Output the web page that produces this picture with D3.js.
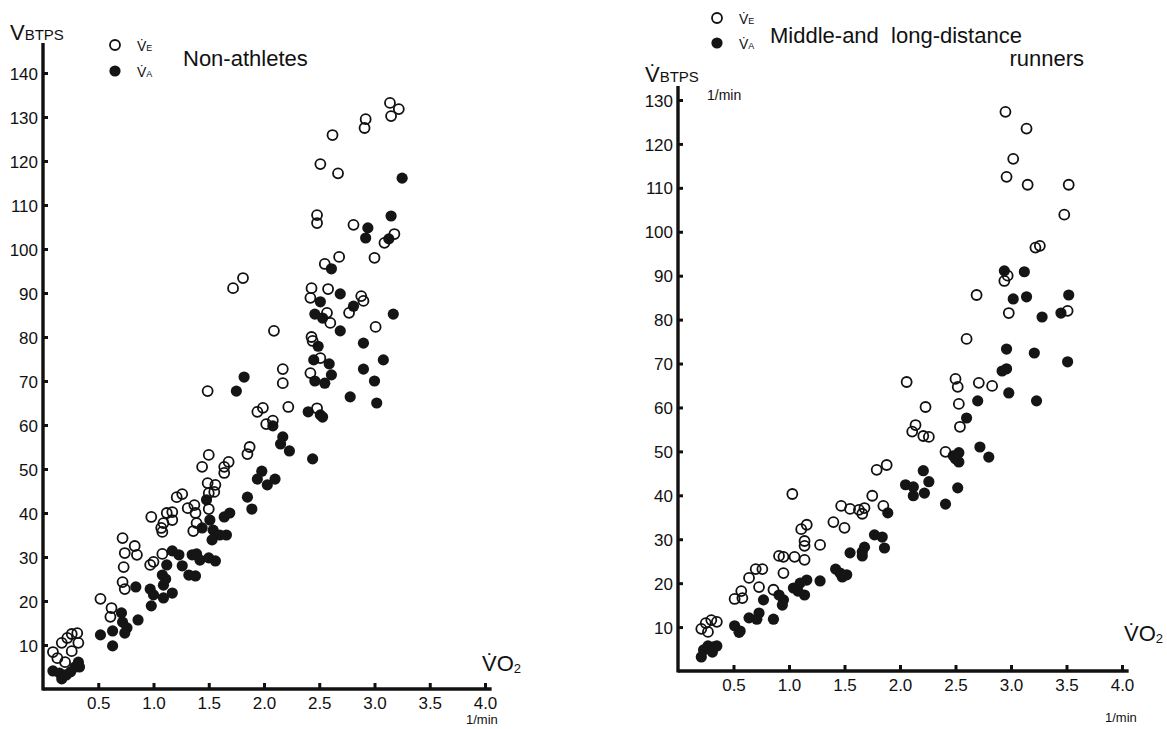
<!DOCTYPE html>
<html>
<head>
<meta charset="utf-8">
<script src="https://cdn.jsdelivr.net/npm/d3@7"></script>
<style>
  body { margin: 0; background: #fff; }
  svg text { font-family: "Liberation Sans", Arial, sans-serif; fill: #111; white-space: pre; }
</style>
</head>
<body>
<div id="chart"></div>
<script>
// values: [VO2 l/min, V BTPS l/min]
const nonAthletesVE = [
  [3.14,133.2],[3.22,131.8],[3.15,130.2],[2.92,129.5],[2.91,127.5],[2.62,125.9],[2.51,119.3],[2.67,117.2],
  [2.48,107.7],[2.48,105.9],[2.81,105.5],[3.18,103.4],[3.09,101.4],[2.68,98.2],[3.0,98.0],[2.55,96.6],
  [2.43,91.1],[2.58,90.9],[2.42,88.9],[2.88,89.3],[2.90,88.2],[2.77,85.5],[2.57,85.5],[2.60,83.2],
  [3.01,82.3],[2.43,80.0],[2.44,79.1],[2.51,75.2],[2.42,71.8],[2.22,64.1],[2.48,63.8],[2.17,72.7],
  [2.17,69.5],[1.72,91.1],[1.81,93.4],[2.09,81.4],[1.49,67.7],[1.94,63.0],[1.99,63.9],[2.02,60.2],
  [2.08,61.0],[1.87,55.0],[1.85,53.4],[1.50,53.2],[1.44,50.5],[1.64,50.5],[1.68,51.6],[1.64,49.1],
  [1.49,46.8],[1.56,46.4],[1.50,44.5],[1.55,44.8],[1.21,43.6],[1.26,44.3],[1.50,40.9],[1.37,41.8],
  [1.31,41.1],[1.38,40.0],[1.39,37.7],[1.36,35.9],[0.98,39.1],[1.09,37.7],[1.07,36.6],[1.08,35.7],
  [1.12,40.0],[1.17,40.2],[1.17,38.4],[0.72,34.3],[0.74,30.9],[0.73,27.7],[0.83,32.5],[0.85,30.5],
  [0.72,24.3],[0.74,22.7],[0.97,28.2],[1.0,28.9],[1.08,30.7],[0.52,20.5],[0.62,18.4],[0.61,16.4],
  [0.31,12.7],[0.26,12.5],[0.22,11.6],[0.17,10.5],[0.32,10.5],[0.26,8.6],[0.09,8.4],[0.13,7.0],[0.20,6.1]
];
const nonAthletesVA = [
  [3.25,116.1],[3.15,107.5],[2.94,104.8],[2.92,102.5],[3.13,102.3],[2.61,95.5],[2.51,88.0],[2.69,89.8],
  [2.81,87.0],[2.46,85.2],[2.53,84.3],[3.17,85.2],[2.69,81.4],[2.49,77.9],[2.90,78.6],[3.08,74.8],
  [2.45,74.8],[2.59,73.9],[2.61,71.4],[2.90,72.7],[2.46,70.0],[2.55,69.5],[3.0,70.0],[2.78,66.4],
  [3.02,65.0],[2.40,63.0],[2.51,62.3],[2.53,61.8],[1.82,70.9],[1.75,67.7],[2.08,59.8],[2.17,57.3],
  [2.15,55.7],[2.23,54.1],[2.44,52.3],[1.98,49.5],[1.94,47.7],[2.03,46.4],[2.10,47.7],[1.85,43.6],
  [1.89,40.9],[1.48,43.0],[1.51,38.4],[1.44,36.6],[1.54,36.1],[1.60,35.0],[1.53,33.9],[1.64,39.1],
  [1.69,40.0],[1.66,35.0],[1.17,31.4],[1.23,30.5],[1.26,28.0],[1.12,28.2],[1.08,25.9],[1.11,25.0],
  [1.09,23.6],[1.17,21.8],[1.09,20.7],[0.97,22.7],[1.0,21.4],[0.98,18.9],[1.35,30.5],[1.39,30.7],
  [1.42,29.3],[1.50,29.8],[1.56,29.1],[1.32,25.9],[1.38,25.7],[0.84,23.2],[0.71,17.3],[0.72,15.2],
  [0.76,13.9],[0.74,12.7],[0.86,15.7],[0.52,12.3],[0.63,13.2],[0.63,9.8],[0.32,6.1],[0.29,5.0],
  [0.25,3.9],[0.09,4.1],[0.15,3.6],[0.17,2.3],[0.21,3.2],[0.33,5.0]
];
const runnersVE = [
  [2.95,127.3],[3.14,123.5],[3.02,116.6],[2.96,112.5],[3.15,110.7],[3.52,110.7],[3.48,103.9],[3.22,96.4],
  [3.26,96.8],[2.97,90.0],[2.94,88.8],[2.69,85.6],[2.98,81.5],[3.51,82.0],[2.60,75.6],[2.06,65.8],
  [2.50,66.5],[2.52,64.7],[2.71,65.6],[2.83,64.9],[2.23,60.1],[2.53,60.8],[2.14,56.0],[2.11,54.5],
  [2.21,53.5],[2.26,53.3],[2.54,55.6],[2.41,49.9],[1.79,45.8],[1.88,46.9],[1.75,39.9],[1.85,37.6],
  [1.47,37.6],[1.55,36.9],[1.63,36.7],[1.66,35.8],[1.68,37.1],[1.03,40.3],[1.40,33.9],[1.50,32.6],
  [1.16,33.3],[1.11,32.3],[1.14,29.6],[1.14,28.5],[1.28,28.7],[0.91,26.2],[0.95,26.0],[1.05,26.0],
  [1.14,25.3],[0.70,23.2],[0.76,23.2],[0.64,21.2],[0.73,19.1],[0.95,22.3],[0.86,18.5],[0.57,18.2],
  [0.58,16.6],[0.51,16.4],[0.21,9.6],[0.25,10.9],[0.30,11.6],[0.35,11.2],[0.27,8.9]
];
const runnersVA = [
  [2.94,91.1],[3.12,90.9],[3.02,84.7],[3.14,85.2],[3.52,85.6],[3.28,80.6],[3.45,81.5],[2.96,73.3],
  [3.21,72.4],[3.51,70.4],[2.92,68.3],[2.96,68.8],[2.98,63.3],[2.70,61.5],[3.23,61.5],[2.60,57.6],
  [2.48,49.0],[2.53,49.7],[2.53,47.6],[2.50,48.3],[2.72,51.0],[2.80,48.7],[2.52,41.7],[2.41,38.0],
  [2.21,45.6],[2.26,43.1],[2.05,42.4],[2.12,41.9],[2.12,39.9],[2.22,40.5],[1.89,36.0],[1.77,31.0],
  [1.84,30.5],[1.86,28.0],[1.55,26.9],[1.66,27.1],[1.68,28.2],[1.66,26.2],[1.42,23.2],[1.46,22.3],
  [1.52,21.9],[1.48,21.4],[1.28,20.5],[1.16,20.7],[1.10,20.0],[1.04,18.9],[1.14,17.3],[1.08,18.2],
  [0.91,17.3],[0.95,16.2],[0.94,15.0],[0.77,16.2],[0.73,13.2],[0.64,12.1],[0.71,11.8],[0.86,11.8],
  [0.51,10.3],[0.56,9.1],[0.55,8.8],[0.27,5.7],[0.32,5.5],[0.35,5.7],[0.23,4.8],[0.31,4.3],[0.21,3.2]
];

const xTicks = [0.5, 1.0, 1.5, 2.0, 2.5, 3.0, 3.5, 4.0];
const yTicksLeft = [10, 20, 30, 40, 50, 60, 70, 80, 90, 100, 110, 120, 130, 140];
const yTicksRight = [10, 20, 30, 40, 50, 60, 70, 80, 90, 100, 110, 120, 130];

const width = 1167, height = 729;
const svg = d3.select("#chart").append("svg")
  .attr("width", width)
  .attr("height", height);

function panel(opt) {
  const x = d3.scaleLinear().domain([0, 4]).range(opt.xRange);
  const y = d3.scaleLinear().domain([0, opt.yMax]).range(opt.yRange);
  const g = svg.append("g");

  // axes
  g.append("g")
    .attr("transform", `translate(0,${y(0)})`)
    .call(d3.axisBottom(x).tickValues(xTicks).tickFormat(d3.format(".1f"))
      .tickSize(-6).tickPadding(8))
    .call(a => a.select(".domain").remove())
    .call(a => a.selectAll(".tick line").attr("stroke", "#111").attr("stroke-width", 3))
    .call(a => a.selectAll("text").style("font-size", "17px"));

  g.append("g")
    .attr("transform", `translate(${x(0)},0)`)
    .call(d3.axisLeft(y).tickValues(opt.yTicks).tickSize(-5).tickPadding(5))
    .call(a => a.select(".domain").remove())
    .call(a => a.selectAll(".tick line").attr("stroke", "#111").attr("stroke-width", 3))
    .call(a => a.selectAll("text").style("font-size", "17px").attr("dy", "0.36em"));

  g.append("line")
    .attr("x1", x(0)).attr("x2", x(0))
    .attr("y1", y(0) + 1.5).attr("y2", y(opt.yTop))
    .attr("stroke", "#111").attr("stroke-width", 3.4);
  g.append("line")
    .attr("x1", x(0)).attr("x2", x(4.06))
    .attr("y1", y(0)).attr("y2", y(0))
    .attr("stroke", "#111").attr("stroke-width", 3.4);

  // points
  g.append("g").selectAll("circle")
    .data(opt.va).join("circle")
    .attr("cx", d => x(d[0])).attr("cy", d => y(d[1]))
    .attr("r", 5.6).attr("fill", "#151515");
  g.append("g").selectAll("circle")
    .data(opt.ve).join("circle")
    .attr("cx", d => x(d[0])).attr("cy", d => y(d[1]))
    .attr("r", 5).attr("fill", "none").attr("stroke", "#111").attr("stroke-width", 1.8);

  // axis titles
  const yl = g.append("text").attr("x", opt.yLabel[0]).attr("y", opt.yLabel[1]);
  yl.append("tspan").style("font-size", "22px").text(opt.yDot ? "V\u0307" : "V");
  yl.append("tspan").style("font-size", "15px").text("BTPS");
  if (opt.yUnit) {
    g.append("text").attr("x", opt.yUnit[0]).attr("y", opt.yUnit[1])
      .style("font-size", "14px").text("1/min");
  }
  const xl = g.append("text").attr("x", opt.xLabel[0]).attr("y", opt.xLabel[1]);
  xl.append("tspan").style("font-size", "22px").text("V\u0307O");
  xl.append("tspan").style("font-size", "13px").attr("dy", 2).text("2");
  g.append("text").attr("x", opt.xUnit[0]).attr("y", opt.xUnit[1])
    .style("font-size", "13px").text("1/min");

  // legend
  const lg = g.append("g").attr("transform", `translate(${opt.legend[0]},${opt.legend[1]})`);
  lg.append("circle").attr("cx", 0).attr("cy", 0).attr("r", 5)
    .attr("fill", "none").attr("stroke", "#111").attr("stroke-width", 1.8);
  lg.append("circle").attr("cx", 0).attr("cy", opt.legendGap).attr("r", 5.6).attr("fill", "#151515");
  [["E", 0], ["A", opt.legendGap]].forEach(([s, dy]) => {
    const t = lg.append("text").attr("x", 22).attr("y", dy + 6);
    t.append("tspan").style("font-size", "14px").text("V\u0307");
    t.append("tspan").style("font-size", "9px").text(s);
  });
  opt.title.forEach(tl => {
    g.append("text").attr("x", tl[0]).attr("y", tl[1])
      .attr("text-anchor", tl[3] || "start")
      .style("font-size", "22px").text(tl[2]);
  });
}

panel({
  xRange: [43, 485], yRange: [689, 73], yMax: 140, yTop: 146.8, yTicks: yTicksLeft,
  ve: nonAthletesVE, va: nonAthletesVA,
  yLabel: [10, 40], yDot: false, yUnit: null,
  xLabel: [482, 671], xUnit: [466, 724],
  legend: [115, 45], legendGap: 26,
  title: [[183, 66, "Non-athletes"]]
});

panel({
  xRange: [678, 1122], yRange: [671, 100], yMax: 130, yTop: 133.2, yTicks: yTicksRight,
  ve: runnersVE, va: runnersVA,
  yLabel: [645, 82], yDot: true, yUnit: [707, 100],
  xLabel: [1124, 641], xUnit: [1105, 722],
  legend: [717, 18], legendGap: 25,
  title: [[770, 43, "Middle-and  long-distance"], [1084, 66, "runners", "end"]]
});
</script>
</body>
</html>
